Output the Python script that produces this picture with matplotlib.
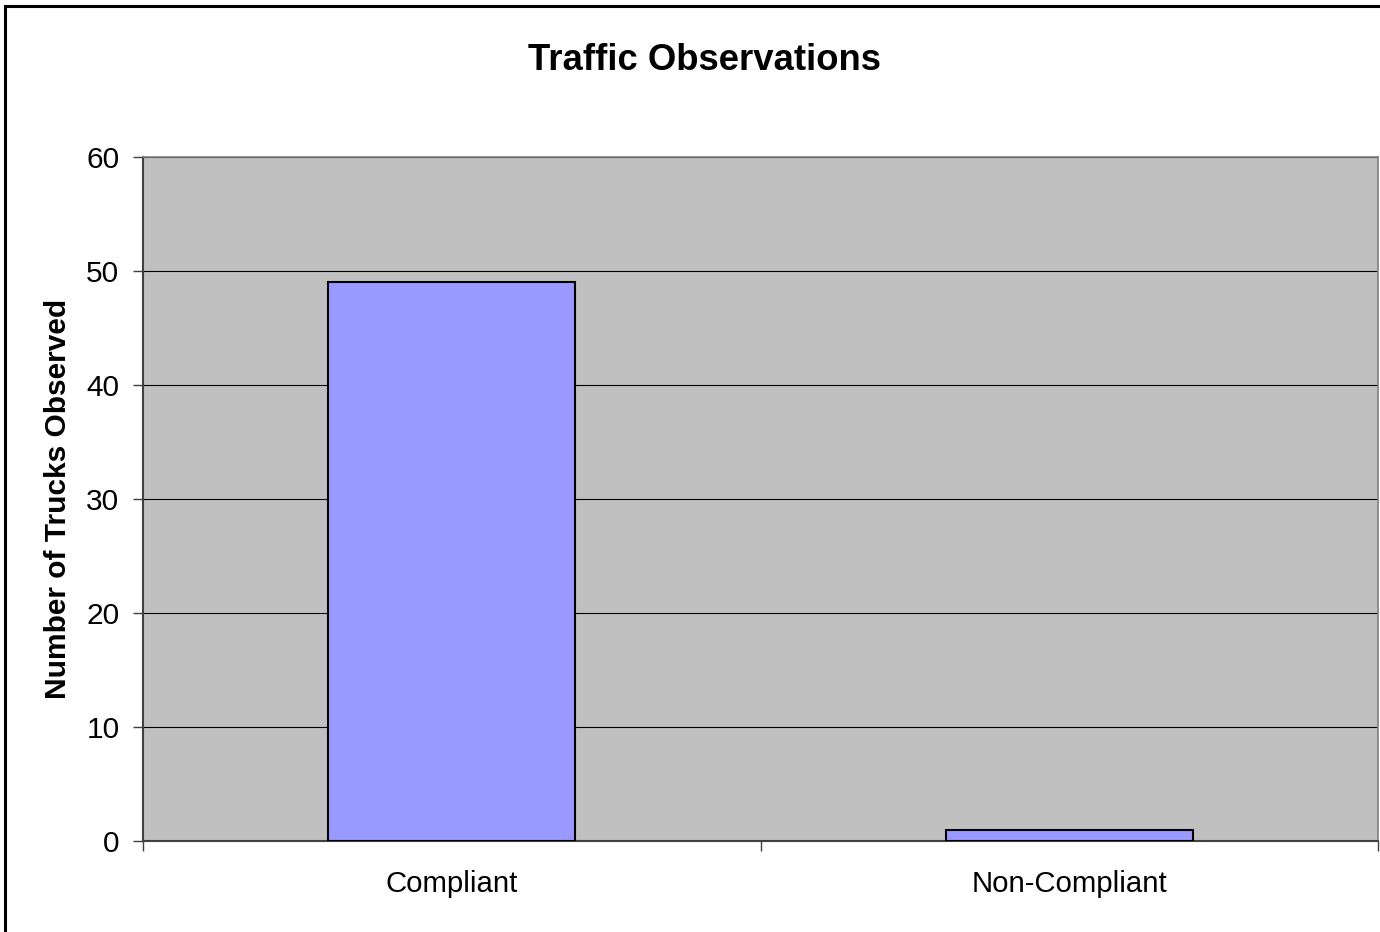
import matplotlib
matplotlib.use("Agg")
import matplotlib.pyplot as plt
from matplotlib.patches import Rectangle

categories = ["Compliant", "Non-Compliant"]
values = [49, 1]
y_ticks = [0, 10, 20, 30, 40, 50, 60]

plt.rcParams['font.family'] = ['Liberation Sans', 'DejaVu Sans']

W, H = 1380, 932
fig = plt.figure(figsize=(W / 100, H / 100), dpi=100)
ax = fig.add_axes([143 / W, 1 - 841 / H, (1378 - 143) / W, (841 - 157) / H])
ax.set_facecolor('#C0C0C0')

x = list(range(len(categories)))
ax.bar(x, values, width=0.4, color='#9999FF', edgecolor='black', linewidth=1.5, zorder=3)

ax.set_xlim(-0.5, len(categories) - 0.5)
ax.set_ylim(0, 60)
ax.set_yticks(y_ticks)
ax.yaxis.grid(True, color='black', linewidth=0.8, zorder=1)
ax.set_axisbelow(True)

ax.set_xticks([i - 0.5 for i in range(len(categories) + 1)])
ax.set_xticklabels([])
ax.set_xticks(x, minor=True)
ax.set_xticklabels(categories, minor=True, fontsize=21.2)
ax.tick_params(axis='x', which='minor', length=0, pad=21)
ax.tick_params(axis='x', which='major', length=7, width=1, color='#404040', direction='out')
ax.tick_params(axis='y', length=7, width=1, color='#404040', direction='out', labelsize=21.5, pad=10)

for s in ['left', 'bottom']:
    ax.spines[s].set_color('#404040')
    ax.spines[s].set_linewidth(1.5)
for s in ['top', 'right']:
    ax.spines[s].set_color('#808080')
    ax.spines[s].set_linewidth(1.2)

ax.set_ylabel('Number of Trucks Observed', fontsize=21.5, fontweight='bold', labelpad=10)
fig.text(704 / W, 1 - 60 / H, 'Traffic Observations', fontsize=26.3, fontweight='bold',
         ha='center', va='center')

fig.patches.append(Rectangle((4.5 / W, -0.05), 1.2, 1 - 5.5 / H + 0.05, transform=fig.transFigure,
                             fill=False, edgecolor='black', linewidth=2.2))

fig.savefig('out.png', dpi=100)
